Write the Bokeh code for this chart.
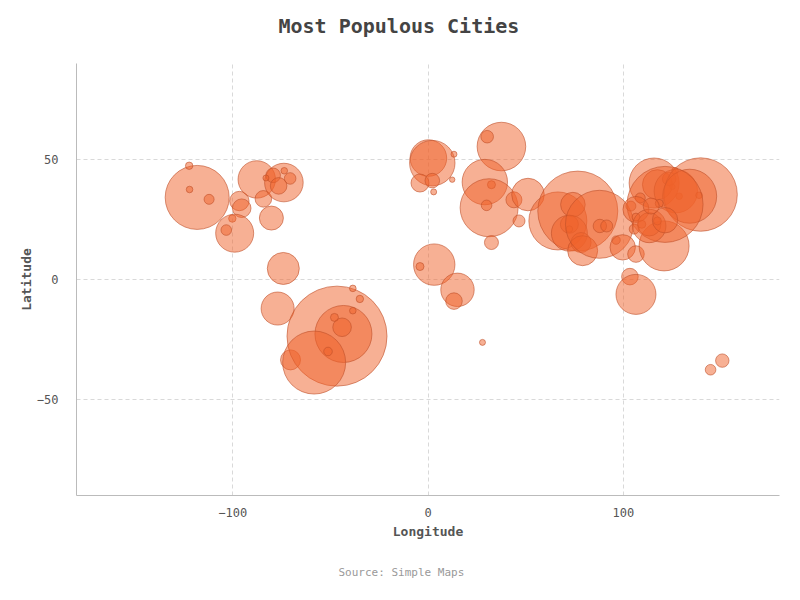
from bokeh.plotting import figure
from bokeh.models import ColumnDataSource, FixedTicker, Title
from bokeh.embed import file_html
from bokeh.resources import INLINE

# ---- data (longitude, latitude, population estimate in millions) ----
cities = [
    "Los Angeles", "Seattle", "San Francisco", "Phoenix", "Dallas", "Houston", "Monterrey",
    "Mexico City", "Guadalajara", "Chicago", "Atlanta", "Miami", "New York", "Toronto",
    "Detroit", "Montreal", "Boston", "Washington",
    "Bogota", "Lima", "Santiago", "Sao Paulo", "Rio de Janeiro", "Buenos Aires",
    "Belo Horizonte", "Porto Alegre", "Brasilia", "Salvador", "Recife", "Fortaleza",
    "London", "Paris", "Madrid", "Barcelona", "Algiers", "Rome", "Berlin", "Moscow",
    "Saint Petersburg", "Istanbul", "Ankara", "Cairo", "Alexandria", "Khartoum",
    "Baghdad", "Riyadh", "Tehran", "Lagos", "Abidjan", "Kinshasa", "Luanda", "Johannesburg",
    "Karachi", "Delhi", "Lahore", "Ahmedabad", "Surat", "Mumbai", "Hyderabad", "Bangalore",
    "Kolkata", "Howrah", "Dhaka", "Yangon", "Bangkok", "Ho Chi Minh City", "Singapore",
    "Jakarta", "Manila", "Sydney", "Melbourne",
    "Beijing", "Tianjin", "Shenyang", "Harbin", "Pyongyang", "Busan", "Seoul", "Tokyo",
    "Yokohama", "Osaka", "Shanghai", "Nanjing", "Xi'an", "Chengdu", "Chongqing", "Guiyang",
    "Nanning", "Hanoi", "Guangzhou", "Shenzhen", "Xiamen", "Taipei", "Wuhan",
]
longitude = [
    -118.2, -122.3, -122.1, -112.1, -96.6, -95.4, -100.2,
    -99.0, -103.3, -87.7, -84.3, -80.2, -73.8, -79.3,
    -83.0, -73.6, -70.6, -76.5,
    -74.1, -77.0, -70.4, -46.6, -43.3, -58.3,
    -44.0, -51.2, -47.9, -38.5, -34.9, -38.5,
    0.2, 2.2, -4.1, 2.2, 2.9, 12.4, 13.3, 37.6,
    30.3, 29.1, 32.5, 31.3, 30.0, 32.5,
    44.0, 46.6, 51.2, 3.2, -4.1, 15.1, 13.3, 27.9,
    66.5, 76.7, 74.2, 72.4, 72.4, 72.4, 78.4, 79.2,
    87.8, 88.0, 91.5, 96.3, 99.7, 106.5, 103.4,
    106.5, 120.9, 150.7, 144.7,
    115.8, 117.5, 123.5, 126.5, 125.2, 128.6, 126.9, 139.6,
    138.8, 134.0, 121.4, 118.4, 108.7, 103.9, 106.5, 106.5,
    109.5, 105.6, 113.3, 113.3, 117.5, 121.4, 114.3,
]
latitude = [
    34.2, 47.4, 37.5, 33.4, 32.7, 29.7, 25.4,
    19.3, 20.6, 41.7, 33.6, 25.6, 40.4, 43.4,
    42.3, 45.3, 42.1, 39.0,
    4.6, -12.1, -33.5, -23.6, -22.7, -34.6,
    -19.9, -30.0, -15.8, -13.0, -8.1, -3.7,
    50.6, 48.5, 40.2, 41.2, 36.5, 41.6, 52.2, 55.4,
    59.5, 40.6, 39.5, 29.9, 30.9, 15.4,
    33.2, 24.4, 35.4, 6.2, 5.4, -4.3, -9.0, -26.2,
    24.4, 28.5, 31.2, 23.0, 21.0, 19.3, 15.4, 12.0,
    23.0, 22.3, 22.3, 16.4, 13.4, 10.6, 1.2,
    -6.2, 14.0, -33.8, -37.6,
    40.2, 39.5, 41.9, 45.3, 38.6, 34.7, 36.8, 35.4,
    35.1, 34.7, 31.3, 31.7, 34.0, 30.6, 29.2, 26.0,
    23.0, 21.0, 23.0, 22.3, 24.4, 24.7, 30.6,
]
population_m = [
    32.0, 3.7, 3.3, 5.0, 9.7, 9.3, 3.7,
    19.0, 5.3, 18.7, 8.3, 12.0, 19.3, 7.3,
    3.0, 3.3, 5.8, 8.3,
    16.0, 16.5, 10.0, 50.0, 28.5, 31.5,
    9.3, 4.3, 4.0, 3.3, 3.7, 3.3,
    18.3, 22.7, 9.0, 7.3, 3.0, 2.7, 3.0, 24.3,
    6.3, 22.7, 4.0, 29.0, 5.3, 7.0,
    8.0, 6.0, 16.3, 20.7, 4.0, 16.7, 8.3, 3.0,
    29.0, 40.0, 12.3, 9.0, 3.3, 18.0, 10.0, 15.0,
    34.0, 6.7, 6.0, 4.2, 12.7, 8.3, 8.3,
    20.0, 25.0, 6.7, 5.3,
    25.0, 15.0, 6.7, 3.3, 2.7, 3.3, 21.7, 36.7,
    3.3, 27.0, 38.0, 4.0, 5.0, 5.0, 13.0, 4.0,
    4.0, 5.0, 11.7, 16.7, 4.0, 12.7, 8.0,
]

x_ticks = [-100, 0, 100]
y_ticks = [-50, 0, 50]

PX_PER_MILLION = 2.0  # bubble diameter in screen pixels per million people

FONT = "DejaVu Sans Mono"

src = ColumnDataSource(data=dict(
    city=cities, lon=longitude, lat=latitude, pop=population_m,
    size=[v * PX_PER_MILLION for v in population_m],
))

p = figure(width=800, height=600, x_range=(-180, 180), y_range=(-90, 90),
           output_backend="svg", toolbar_location=None,
           min_border_left=76, min_border_right=21, min_border_top=63, min_border_bottom=105)

p.outline_line_color = None
p.background_fill_color = "white"
p.border_fill_color = "white"

p.title.text = "Most Populous Cities\n"
p.title.align = "left"
p.title.offset = 202
p.title.vertical_align = "top"
p.title.standoff = 0
p.title.text_font = FONT
p.title.text_font_size = "20px"
p.title.text_font_style = "bold"
p.title.text_color = "#444444"

p.scatter("lon", "lat", size="size", source=src, marker="circle",
          fill_color="#F0622A", fill_alpha=0.5,
          line_color="#C0502A", line_alpha=0.6, line_width=1)

for ax in (p.xaxis[0], p.yaxis[0]):
    ax.axis_line_color = "#bbbbbb"
    ax.major_tick_line_color = None
    ax.minor_tick_line_color = None
    ax.major_label_text_font = FONT
    ax.major_label_text_font_size = "12px"
    ax.major_label_text_color = "#555555"
    ax.axis_label_text_font = FONT
    ax.axis_label_text_font_size = "13px"
    ax.axis_label_text_font_style = "bold"
    ax.axis_label_text_color = "#555555"

p.xaxis.ticker = FixedTicker(ticks=x_ticks)
p.yaxis.ticker = FixedTicker(ticks=y_ticks)
p.xaxis.axis_label = "Longitude"
p.yaxis.axis_label = "Latitude"
p.xaxis.major_label_standoff = 6
p.yaxis.major_label_standoff = 12
p.xaxis.axis_label_standoff = 4
p.yaxis.axis_label_standoff = 0

p.grid.grid_line_color = "#d9d9d9"
p.grid.grid_line_dash = "4 3"

source_title = Title(text="Source: Simple Maps", align="left", offset=262,
                     text_font=FONT, text_font_size="11px", text_font_style="normal",
                     text_color="#999999", standoff=44)
p.add_layout(source_title, "below")

open("out.html", "w").write(file_html(p, INLINE))
